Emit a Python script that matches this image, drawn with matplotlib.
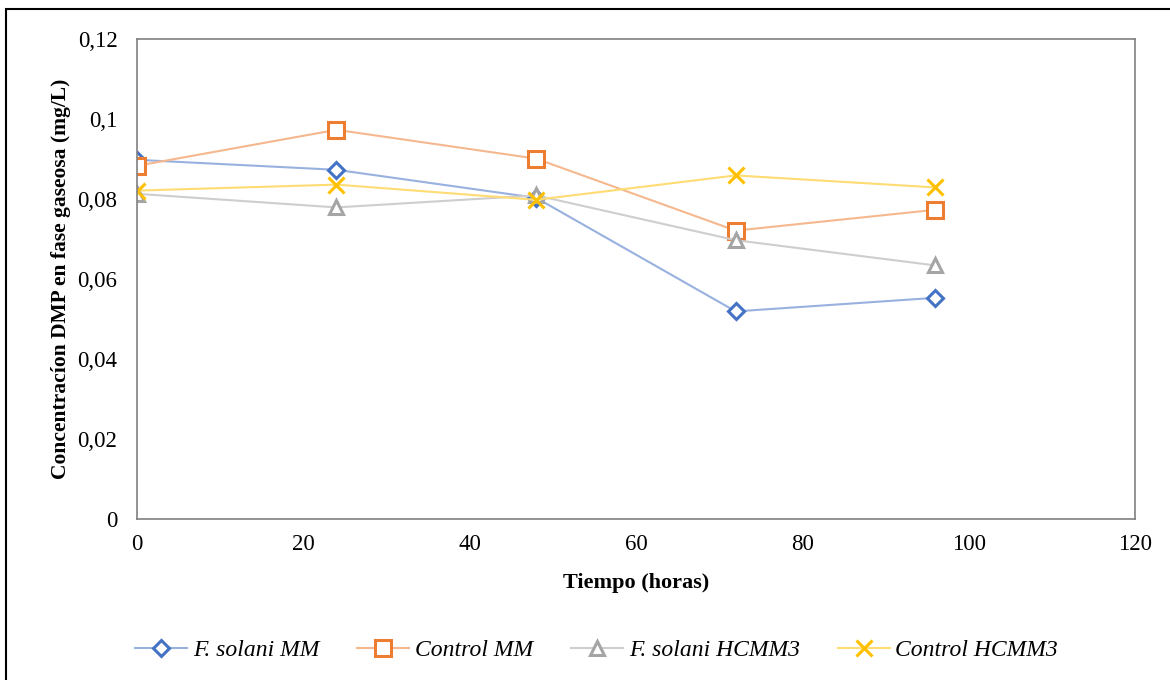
import matplotlib
matplotlib.use('Agg')
import matplotlib.pyplot as plt
from matplotlib.patches import Rectangle
from matplotlib.colors import to_rgb

plt.rcParams['font.family'] = ['Liberation Serif', 'DejaVu Serif']

# Concentración de DMP en fase gaseosa (mg/L) a lo largo del tiempo
tiempo = [0, 24, 48, 72, 96]
fs_mm = [0.0898, 0.0873, 0.0803, 0.0519, 0.0553]
ctrl_mm = [0.0883, 0.0973, 0.0901, 0.0721, 0.0773]
fs_hcmm3 = [0.0813, 0.0779, 0.0809, 0.0697, 0.0634]
ctrl_hcmm3 = [0.0821, 0.0836, 0.0798, 0.0859, 0.0829]

series = [
    ('F. solani MM', fs_mm, '#4472C4', 'D', 8.5),
    ('Control MM', ctrl_mm, '#ED7D31', 's', 11.5),
    ('F. solani HCMM3', fs_hcmm3, '#A5A5A5', '^', 10.5),
    ('Control HCMM3', ctrl_hcmm3, '#FFC000', 'x', 11),
]


def aclarar(color, f=0.45):
    r, g, b = to_rgb(color)
    return (r + (1 - r) * f, g + (1 - g) * f, b + (1 - b) * f)


fig = plt.figure(figsize=(11.7, 6.8), dpi=100)
ax = fig.add_axes([0.117, 0.2368, 0.853, 0.7058])

for nombre, vals, color, marcador, tam in series:
    ax.plot(tiempo, vals, color=aclarar(color), linewidth=1.5,
            marker=marcador, markersize=tam, markerfacecolor='white',
            markeredgecolor=color, markeredgewidth=2.2, label=nombre)

ax.set_xlim(0, 120)
ax.set_ylim(0, 0.12)
ax.set_xticks(range(0, 121, 20))
ax.set_yticks([0, 0.02, 0.04, 0.06, 0.08, 0.1, 0.12])
ax.set_yticklabels(['0', '0,02', '0,04', '0,06', '0,08', '0,1', '0,12'])
ax.tick_params(length=0, labelsize=16.5)
ax.tick_params(axis='y', pad=14)
ax.tick_params(axis='x', pad=11)
for s in ax.spines.values():
    s.set_color('#808080')
    s.set_linewidth(1.2)

ax.set_xlabel('Tiempo (horas)', fontsize=16, fontweight='bold', labelpad=13)
ax.set_ylabel('Concentracíon DMP en fase gaseosa (mg/L)', fontsize=15.5,
              fontweight='bold', labelpad=5)

leg = fig.legend(loc='center', bbox_to_anchor=(0.51, 0.044), ncol=4,
                 frameon=False, prop={'style': 'italic', 'size': 17},
                 handlelength=2.2, columnspacing=1.6, handletextpad=0.25)

# marco exterior de la figura
fig.patches.append(Rectangle((0.005, -0.01), 1.0, 0.997, transform=fig.transFigure,
                             fill=False, edgecolor='black', linewidth=1.5))

fig.savefig('out.png', dpi=100)
